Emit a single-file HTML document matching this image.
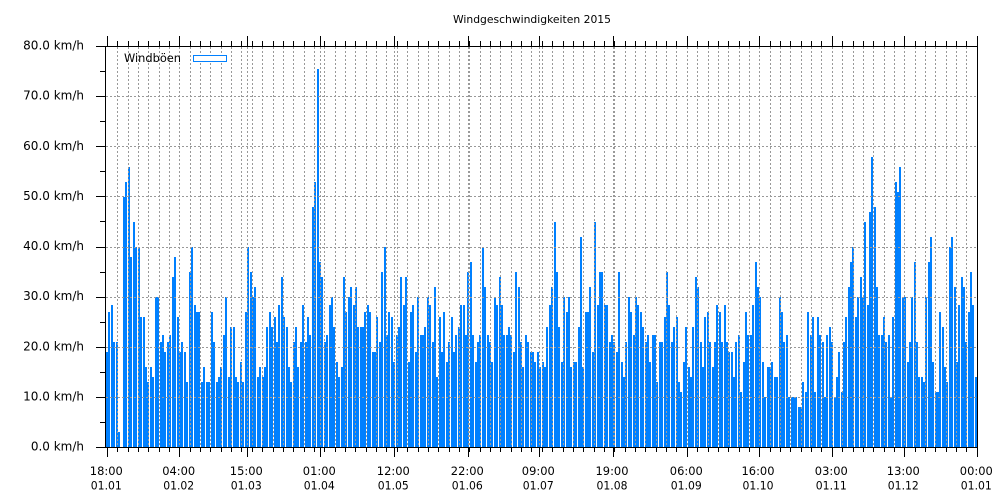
<!DOCTYPE html>
<html><head><meta charset="utf-8">
<style>
html,body{margin:0;padding:0;background:#fff;}
svg{display:block;}
text{font-family:"DejaVu Sans","Liberation Sans",sans-serif;fill:#000;}
</style></head><body>
<svg id="c" width="1000" height="500" viewBox="0 0 1000 500" xmlns="http://www.w3.org/2000/svg">
<rect width="1000" height="500" fill="#fff"/>
<g id="bars" shape-rendering="crispEdges"></g>
<g id="grid" stroke="#999999" stroke-width="1" stroke-dasharray="2,2" fill="none" shape-rendering="crispEdges"></g>
<g id="axes" stroke="#000" stroke-width="1" fill="none" shape-rendering="crispEdges"></g>

<text x="532" y="23" font-size="11" text-anchor="middle" textLength="158" lengthAdjust="spacingAndGlyphs">Windgeschwindigkeiten 2015</text>

<text x="124" y="62" font-size="11.5" textLength="57" lengthAdjust="spacingAndGlyphs">Windböen</text>
<rect x="193.5" y="55.5" width="33" height="6" fill="#fff" stroke="#0080ff" stroke-width="1" shape-rendering="crispEdges"/>

<g font-size="12" text-anchor="end">
<text x="84" y="49.5">80.0 km/h</text>
<text x="84" y="99.6">70.0 km/h</text>
<text x="84" y="149.8">60.0 km/h</text>
<text x="84" y="199.9">50.0 km/h</text>
<text x="84" y="250">40.0 km/h</text>
<text x="84" y="300.1">30.0 km/h</text>
<text x="84" y="350.3">20.0 km/h</text>
<text x="84" y="400.4">10.0 km/h</text>
<text x="84" y="450.5">0.0 km/h</text>
</g>

<g font-size="11.5" text-anchor="middle">
<text x="106.3" y="475" textLength="33" lengthAdjust="spacingAndGlyphs">18:00</text>
<text x="106.3" y="489.5" textLength="31" lengthAdjust="spacingAndGlyphs">01.01</text>
<text x="178.7" y="475" textLength="33" lengthAdjust="spacingAndGlyphs">04:00</text>
<text x="178.7" y="489.5" textLength="31" lengthAdjust="spacingAndGlyphs">01.02</text>
<text x="246.3" y="475" textLength="33" lengthAdjust="spacingAndGlyphs">15:00</text>
<text x="246.3" y="489.5" textLength="31" lengthAdjust="spacingAndGlyphs">01.03</text>
<text x="319.3" y="475" textLength="33" lengthAdjust="spacingAndGlyphs">01:00</text>
<text x="319.3" y="489.5" textLength="31" lengthAdjust="spacingAndGlyphs">01.04</text>
<text x="393.3" y="475" textLength="33" lengthAdjust="spacingAndGlyphs">12:00</text>
<text x="393.3" y="489.5" textLength="31" lengthAdjust="spacingAndGlyphs">01.05</text>
<text x="467.3" y="475" textLength="33" lengthAdjust="spacingAndGlyphs">22:00</text>
<text x="467.3" y="489.5" textLength="31" lengthAdjust="spacingAndGlyphs">01.06</text>
<text x="538.3" y="475" textLength="33" lengthAdjust="spacingAndGlyphs">09:00</text>
<text x="538.3" y="489.5" textLength="31" lengthAdjust="spacingAndGlyphs">01.07</text>
<text x="612" y="475" textLength="33" lengthAdjust="spacingAndGlyphs">19:00</text>
<text x="612" y="489.5" textLength="31" lengthAdjust="spacingAndGlyphs">01.08</text>
<text x="686.3" y="475" textLength="33" lengthAdjust="spacingAndGlyphs">06:00</text>
<text x="686.3" y="489.5" textLength="31" lengthAdjust="spacingAndGlyphs">01.09</text>
<text x="758" y="475" textLength="33" lengthAdjust="spacingAndGlyphs">16:00</text>
<text x="758" y="489.5" textLength="31" lengthAdjust="spacingAndGlyphs">01.10</text>
<text x="831.3" y="475" textLength="33" lengthAdjust="spacingAndGlyphs">03:00</text>
<text x="831.3" y="489.5" textLength="31" lengthAdjust="spacingAndGlyphs">01.11</text>
<text x="903.3" y="475" textLength="33" lengthAdjust="spacingAndGlyphs">13:00</text>
<text x="903.3" y="489.5" textLength="31" lengthAdjust="spacingAndGlyphs">01.12</text>
<text x="976.3" y="475" textLength="33" lengthAdjust="spacingAndGlyphs">00:00</text>
<text x="976.3" y="489.5" textLength="31" lengthAdjust="spacingAndGlyphs">01.01</text>
</g>
</svg>
<script>
(function(){
var NS="http://www.w3.org/2000/svg";
function el(p,tag,a){var e=document.createElementNS(NS,tag);for(var k in a)e.setAttribute(k,a[k]);p.appendChild(e);return e;}
function Y(v){return 447.5-5.0125*v;}
var segs=[
[106,252,"19 27 28.5 21 21 3 0 50 53 56 38 45 35/40 40 26 26 16 13 13/16 14 30 30 21 19/22.5 19 21 22.5 34 38 26 19 21 19 13 35 35/40 28.5 27 27 13 13/16 13 13 27 21 13 14 16 22.5 30 14 24 24 14 13 17 13 27 40 35"],
[252,398,"30 32 14 16 14 14/16 24 27 24 26 21 28.5 34 26 24 13/16 13 21 24 16 21 28.5 21 22.5/26 22.5 48 53 75.5 34/37 34 21 22.5 28.5 28.5/30 24 17 14 16 30/34 27 30 32 28.5 32 24 24 24 27 28.5 27 19 19 26 21 35 40 22.5 27 26 17 22.5"],
[398,544,"24 34 28.5 28/34 17 27 28.5 19 26/30 22.5 22.5 24 30 26/28.5 21 32 14 26 19 27 17 19/21 26 19 22.5 24 24/28.5 28.5 22.5 35 37 20/22.5 17 21 21/22.5 40 32 22.5 21 17 30 28.5 34 28.5 22.5 22.5 24 22.5 19 30/35 32 21 14/16 22.5 21 19 19 17 19 16 17"],
[544,690,"16 20/24 28.5 32 45 35 24 17 30 24/27 30 16 17 17 20/24 42 16 27 27 32 19 45 28.5 30/35 35 28.5 28.5 21 22.5 21 19 35 17 14 21 30 27 22.5 30 28.5 27 24 21 22.5 17 20/22.5 22.5 13 21 21 22/26 35 28.5 21 24 22/26 13 11 17 24 14/16"],
[690,836,"14 24 30/34 32 21 16 26 24/27 21 16 21 28.5 24/27 21 28.5 21 19 17/19 14 21 20/22.5 11 17 27 22.5 22.5 28.5 37 32 30 15/17 10 16 16 17 14 13/14 30 27 21 22.5 10 9/10 10 10 8 8 13 11 27 22.5 26 11 22/26 22.5 21 10 20/22.5 24 21 10"],
[836,977,"12/14 19 11 21 26 28/32 37 40 26 30 30/34 30 45 28.5 47 58 48 32 22.5 22.5 26 21 22.5 9/10 26 53 51 56 30 30 17 21 30 37 21 14 13/14 13 30 37 42 15/17 11 11 27 24 14/16 13 40 42 32 17 28.5 34 28/32 21 27 35 28.5 14"]
];
var bars=document.getElementById('bars');
segs.forEach(function(s){
  var a=s[0],b=s[1],arr=s[2].trim().split(/\s+/);var w=(b-a)/arr.length;
  arr.forEach(function(t,i){
    var p=t.split('/').map(Number),f=p[0],o=p[1];
    var x0=Math.round(a+i*w),x1=Math.round(a+(i+1)*w);
    var bw=(x1-x0)>=3?(x1-x0-1):(x1-x0);
    var yf=Math.round(Y(f));
    if(o){var yo=Math.round(Y(o));el(bars,'rect',{x:x0+0.5,y:yo+0.5,width:Math.max(bw-1,1),height:Math.max(yf-yo,1),fill:'#fff',stroke:'#0080ff','stroke-width':1});}
    if(f>0)el(bars,'rect',{x:x0,y:yf,width:bw,height:447-yf,fill:'#0080ff'});
  });
});
var grid=document.getElementById('grid'),axes=document.getElementById('axes');
for(var k=1;k<=7;k++){var y=Math.floor(Y(10*k))+0.5;el(grid,'line',{x1:106,y1:y,x2:977,y2:y});}
var majors=[107.3,179.7,247.3,320.3,394.3,468.3,539.3,613,687.3,759,832.3,904.3,977.3];
var xs=[];
for(var k=1;k<84;k++)xs.push(107.3+k*(977.3-107.3)/84);
xs.forEach(function(x){var px=Math.floor(x)+0.5;el(grid,'line',{x1:px,y1:47,x2:px,y2:447});});
majors.slice(1,-1).forEach(function(x){var px=Math.floor(x)+0.5;el(grid,'line',{x1:px,y1:47,x2:px,y2:447});});
el(axes,'line',{x1:96,y1:46.5,x2:978,y2:46.5});
el(axes,'line',{x1:96,y1:447.5,x2:978,y2:447.5});
el(axes,'line',{x1:105.5,y1:46,x2:105.5,y2:448});
el(axes,'line',{x1:977.5,y1:46,x2:977.5,y2:448});
for(var v=0;v<=80;v+=5){var y=Math.floor(Y(v))+0.5;if(v===0)y=447.5;if(v===80)y=46.5;el(axes,'line',{x1:(v%10===0?96:100),y1:y,x2:105.5,y2:y});}
majors.forEach(function(x){var px=Math.floor(x)+0.5;el(axes,'line',{x1:px,y1:36,x2:px,y2:46.5});el(axes,'line',{x1:px,y1:447.5,x2:px,y2:457});});
xs.forEach(function(x){var px=Math.floor(x)+0.5;el(axes,'line',{x1:px,y1:41,x2:px,y2:46.5});el(axes,'line',{x1:px,y1:447.5,x2:px,y2:452});});
})();
</script>
</body></html>
